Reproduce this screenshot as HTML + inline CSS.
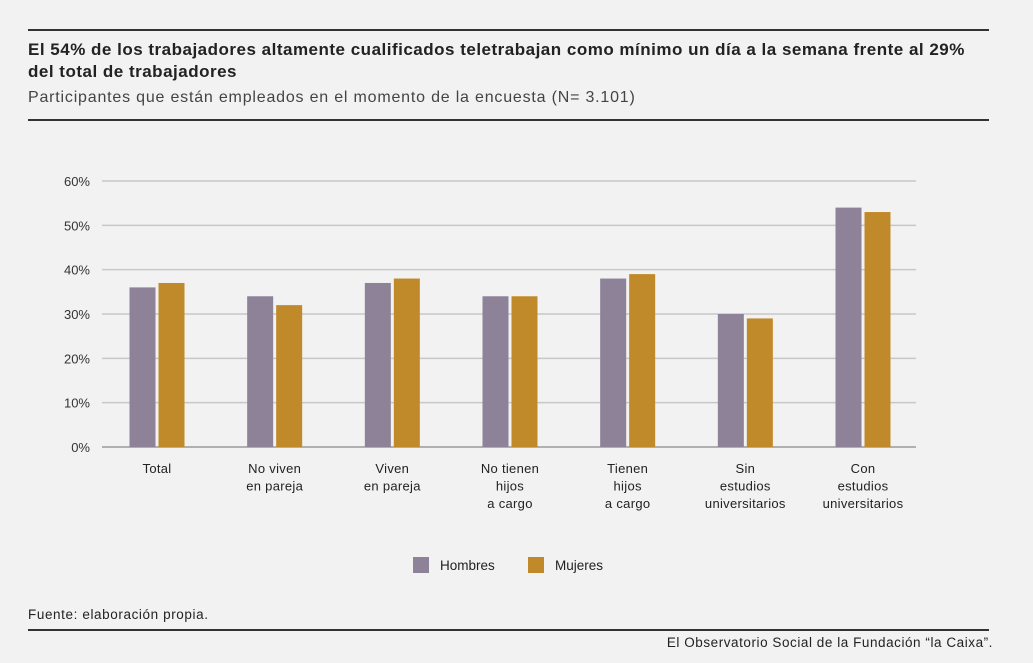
<!DOCTYPE html>
<html><head><meta charset="utf-8"><style>
body{margin:0;background:#f2f2f2;font-family:"Liberation Sans",sans-serif;}
#wrap{position:relative;width:1033px;height:663px;overflow:hidden;background:#f2f2f2;}
.rule{position:absolute;left:28px;width:961px;background:#333;}
.t{position:absolute;color:#222;white-space:nowrap;}
</style></head><body>
<div id="wrap">
<div class="rule" style="top:29px;height:2px"></div>
<div class="t" style="left:28px;top:39px;font-size:17px;font-weight:bold;line-height:22px;letter-spacing:0.5px">El 54% de los trabajadores altamente cualificados teletrabajan como mínimo un día a la semana frente al 29%<br>del total de trabajadores</div>
<div class="t" style="left:28px;top:89px;font-size:16px;letter-spacing:0.8px;color:#444">Participantes que están empleados en el momento de la encuesta (N= 3.101)</div>
<div class="rule" style="top:119px;height:2px"></div>
<svg id="chart" width="1033" height="663" style="position:absolute;left:0;top:0"></svg>
<div class="t" style="left:28px;top:607px;font-size:13.5px;letter-spacing:0.6px">Fuente: elaboración propia.</div>
<div class="rule" style="top:629px;height:2px"></div>
<div class="t" style="right:40px;top:635px;font-size:13.5px;letter-spacing:0.55px">El Observatorio Social de la Fundación “la Caixa”.</div>
</div>
<script>
const categories=[["Total"],["No viven","en pareja"],["Viven","en pareja"],["No tienen","hijos","a cargo"],["Tienen","hijos","a cargo"],["Sin","estudios","universitarios"],["Con","estudios","universitarios"]];
const hombres=[36,34,37,34,38,30,54];
const mujeres=[37,32,38,34,39,29,53];
const yTicks=[0,10,20,30,40,50,60];
const yTickLabels=["0%","10%","20%","30%","40%","50%","60%"];
const svg=document.getElementById('chart');const NS='http://www.w3.org/2000/svg';
const x0=102,x1=916,yBase=447,yTop=181,yMax=60;
const y=v=>yBase-(v/yMax)*(yBase-yTop);
const c0=157,c1=863;
const cx=i=>c0+i*(c1-c0)/(categories.length-1);
function mk(t,a){const e=document.createElementNS(NS,t);for(const k in a)e.setAttribute(k,a[k]);svg.appendChild(e);return e;}
yTicks.forEach((v,i)=>{
 const l=mk('line',{x1:x0,x2:x1,y1:y(v),y2:y(v),stroke:v===0?'#999':'#c8c8c8','stroke-width':1.5});
 
 
 const t=mk('text',{x:90,y:y(v)+5,'text-anchor':'end','font-size':13,fill:'#333','font-family':'Liberation Sans'});
 t.textContent=yTickLabels[i];
 
 
});
const bw=26,gap=3;
categories.forEach((c,i)=>{
 const h=mk('rect',{x:cx(i)-gap/2-bw,y:y(hombres[i]),width:bw,height:yBase-y(hombres[i]),fill:'#8e8299'});
 
 
 const m=mk('rect',{x:cx(i)+gap/2,y:y(mujeres[i]),width:bw,height:yBase-y(mujeres[i]),fill:'#c08a2a'});
 
 
 c.forEach((ln,j)=>{
  const t=mk('text',{x:cx(i),y:473+j*17.5,'text-anchor':'middle','font-size':13,fill:'#222','font-family':'Liberation Sans','letter-spacing':0.3});
  t.textContent=ln;
  
  
 });
});
[["Hombres","#8e8299",413],["Mujeres","#c08a2a",528]].forEach(([n,col,lx])=>{
 const r=mk('rect',{x:lx,y:557,width:16,height:16,fill:col});
 
 
 const t=mk('text',{x:lx+27,y:570,'font-size':13.5,fill:'#222','font-family':'Liberation Sans'});
 t.textContent=n;
 
 
});
</script>
</body></html>
